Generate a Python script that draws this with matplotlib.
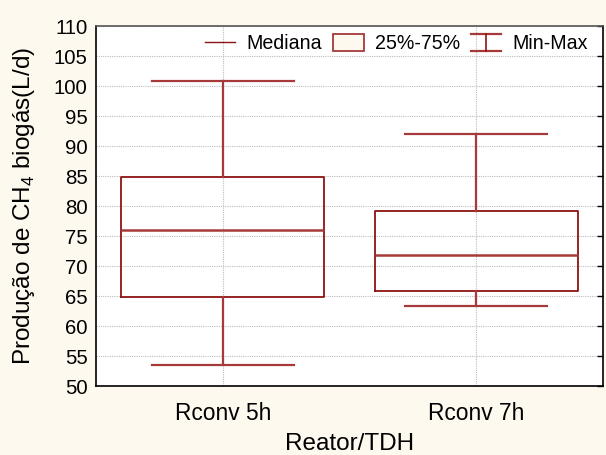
import matplotlib
matplotlib.use("Agg")
import matplotlib.pyplot as plt
from matplotlib.lines import Line2D
from matplotlib.patches import Patch
from matplotlib.legend_handler import HandlerBase

plt.rcParams['font.family'] = ['Liberation Sans', 'DejaVu Sans']
plt.rcParams['mathtext.fontset'] = 'custom'
plt.rcParams['mathtext.rm'] = 'Liberation Sans'

# Summary statistics per reactor
categories = ["Rconv 5h", "Rconv 7h"]
minimum = [53.5, 63.4]
q1 = [64.9, 65.8]
median = [76.0, 71.9]
q3 = [84.8, 79.1]
maximum = [100.9, 92.0]

y_ticks = list(range(50, 111, 5))

bg = "#FEF9EF"
box_color = "#8E1414"
whisk_color = "#A63A3A"
grid_color = "#BDBDBD"

fig = plt.figure(figsize=(6.06, 4.55), dpi=100, facecolor=bg)
ax = fig.add_axes([96 / 606, 1 - 386 / 455, (603 - 96) / 606, (386 - 26) / 455])
ax.set_facecolor("white")

stats = []
for i, name in enumerate(categories):
    stats.append(dict(label=name, whislo=minimum[i], q1=q1[i], med=median[i],
                      q3=q3[i], whishi=maximum[i], fliers=[]))

positions = list(range(1, len(categories) + 1))
ax.bxp(stats, positions=positions, widths=0.8, capwidths=0.56,
       showfliers=False, manage_ticks=False,
       boxprops=dict(color=box_color, linewidth=1.3),
       whiskerprops=dict(color=whisk_color, linewidth=1.6),
       capprops=dict(color=whisk_color, linewidth=1.6),
       medianprops=dict(color=whisk_color, linewidth=1.8),
       zorder=3)

ax.set_xlim(0.5, len(categories) + 0.5)
ax.set_ylim(50, 110)
ax.set_yticks(y_ticks)
ax.set_xticks(positions)
ax.set_xticklabels(categories)

ax.grid(True, color=grid_color, linestyle=(0, (1, 1)), linewidth=0.8, zorder=0)
ax.set_axisbelow(True)

ax.tick_params(axis='y', left=False, right=True, direction='in', length=4,
               width=1, labelsize=14.7, pad=6)
ax.tick_params(axis='x', bottom=False, labelsize=16.4, pad=8)

for side in ("left", "bottom", "right"):
    ax.spines[side].set_color("black")
    ax.spines[side].set_linewidth(1.2)
ax.spines["top"].set_color("#555555")
ax.spines["top"].set_linewidth(1.2)

ax.set_xlabel("Reator/TDH", fontsize=17.5)
ax.set_ylabel(r"Produção de CH$_4$ biogás(L/d)", fontsize=17.5)
ax.yaxis.set_label_coords(-0.116, 0.5)
ax.xaxis.set_label_coords(0.5, -0.131)


class MinMaxHandler(HandlerBase):
    def create_artists(self, legend, orig_handle, xdescent, ydescent,
                       width, height, fontsize, trans):
        x0, x1 = -xdescent, -xdescent + width
        xm = (x0 + x1) / 2
        y0, y1 = -ydescent, -ydescent + height
        lines = [
            Line2D([x0, x1], [y0, y0], color=whisk_color, lw=1.6),
            Line2D([x0, x1], [y1, y1], color=whisk_color, lw=1.6),
            Line2D([xm, xm], [y0, y1], color=box_color, lw=1.2),
        ]
        for ln in lines:
            ln.set_transform(trans)
        return lines


minmax_key = object()
handles = [
    Line2D([], [], color=box_color, lw=1.0),
    Patch(facecolor=bg, edgecolor=whisk_color, linewidth=1.3),
    minmax_key,
]
labels = ["Mediana", "25%-75%", "Min-Max"]
ax.legend(handles, labels, loc="upper right", ncol=3, frameon=False,
          fontsize=14.1, handlelength=1.55, handleheight=1.0,
          handletextpad=0.57, columnspacing=0.57, borderaxespad=0.0,
          borderpad=0.3, bbox_to_anchor=(1 - 9 / 507, 1 - 2 / 360),
          handler_map={minmax_key: MinMaxHandler()})

fig.savefig("out.png", dpi=100, facecolor=bg)
